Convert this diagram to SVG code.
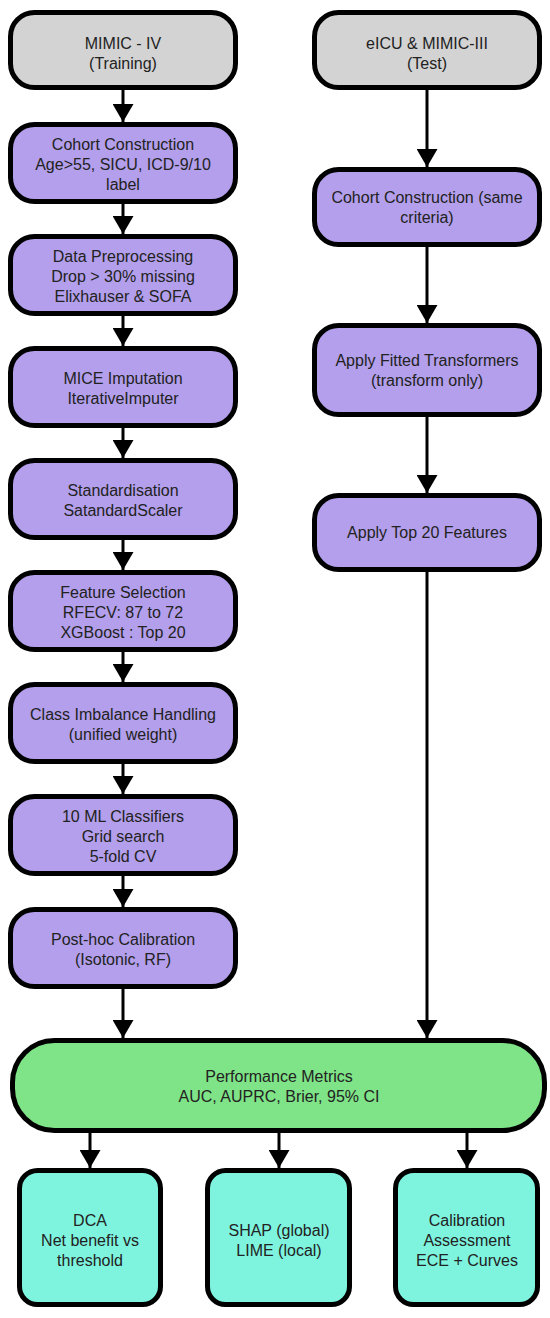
<svg xmlns="http://www.w3.org/2000/svg" width="550" height="1318" viewBox="0 0 550 1318">
<style>
.box{stroke:#000;stroke-width:5}
.grey{fill:#d3d3d3}
.purple{fill:#b39feb}
.green{fill:#7fe487}
.cyan{fill:#7ef4df}
text{font-family:"Liberation Sans",Arial,sans-serif;font-size:16px;fill:#222;text-anchor:middle}
.conn line{stroke:#000;stroke-width:3}
</style>
<defs>
<marker id="ah" markerWidth="6" markerHeight="7" refX="6" refY="3.5" orient="auto" markerUnits="strokeWidth">
<path d="M0,0 L6,3.5 L0,7 Z" fill="#000"/>
</marker>
</defs>
<rect width="550" height="1318" fill="#fff"/>
<g id="n_mimic4"><rect class="box grey" x="10.5" y="12.5" width="225" height="75" rx="24"/><text x="123" y="49">MIMIC - IV</text><text x="123" y="69">(Training)</text></g>
<g id="n_cohort"><rect class="box purple" x="10.5" y="124.5" width="225" height="77" rx="24"/><text x="123" y="150">Cohort Construction</text><text x="123" y="170">Age&gt;55, SICU, ICD-9/10</text><text x="123" y="190">label</text></g>
<g id="n_prep"><rect class="box purple" x="10.5" y="236.5" width="225" height="77" rx="24"/><text x="123" y="262">Data Preprocessing</text><text x="123" y="282">Drop &gt; 30% missing</text><text x="123" y="302">Elixhauser &amp; SOFA</text></g>
<g id="n_mice"><rect class="box purple" x="10.5" y="348.5" width="225" height="77" rx="24"/><text x="123" y="384">MICE Imputation</text><text x="123" y="404">IterativeImputer</text></g>
<g id="n_std"><rect class="box purple" x="10.5" y="460.5" width="225" height="77" rx="24"/><text x="123" y="496">Standardisation</text><text x="123" y="516">SatandardScaler</text></g>
<g id="n_feat"><rect class="box purple" x="10.5" y="572.5" width="225" height="77" rx="24"/><text x="123" y="598">Feature Selection</text><text x="123" y="618">RFECV: 87 to 72</text><text x="123" y="638">XGBoost : Top 20</text></g>
<g id="n_class"><rect class="box purple" x="10.5" y="684.5" width="225" height="77" rx="24"/><text x="123" y="720">Class Imbalance Handling</text><text x="123" y="740">(unified weight)</text></g>
<g id="n_ml"><rect class="box purple" x="10.5" y="796.5" width="225" height="77" rx="24"/><text x="123" y="822">10 ML Classifiers</text><text x="123" y="842">Grid search</text><text x="123" y="862">5-fold CV</text></g>
<g id="n_posthoc"><rect class="box purple" x="10.5" y="909.5" width="225" height="77" rx="24"/><text x="123" y="945">Post-hoc Calibration</text><text x="123" y="965">(Isotonic, RF)</text></g>
<g id="n_eicu"><rect class="box grey" x="314.5" y="12.5" width="225" height="75" rx="24"/><text x="427" y="49">eICU &amp; MIMIC-III</text><text x="427" y="69">(Test)</text></g>
<g id="n_cohort2"><rect class="box purple" x="314.5" y="169.5" width="225" height="75" rx="24"/><text x="427" y="203">Cohort Construction (same</text><text x="427" y="223">criteria)</text></g>
<g id="n_fitted"><rect class="box purple" x="314.5" y="325.5" width="225" height="89" rx="24"/><text x="427" y="366">Apply Fitted Transformers</text><text x="427" y="386">(transform only)</text></g>
<g id="n_top20"><rect class="box purple" x="314.5" y="495.5" width="225" height="74" rx="24"/><text x="427" y="538">Apply Top 20 Features</text></g>
<g id="n_perf"><rect class="box green" x="12.5" y="1040.5" width="532" height="90" rx="42"/><text x="279" y="1082">Performance Metrics</text><text x="279" y="1102">AUC, AUPRC, Brier, 95% CI</text></g>
<g id="n_dca"><rect class="box cyan" x="19.5" y="1170.5" width="141" height="134" rx="18"/><text x="90" y="1226">DCA</text><text x="90" y="1246">Net benefit vs</text><text x="90" y="1266">threshold</text></g>
<g id="n_shap"><rect class="box cyan" x="207.5" y="1170.5" width="142" height="134" rx="18"/><text x="279" y="1236">SHAP (global)</text><text x="279" y="1256">LIME (local)</text></g>
<g id="n_calib"><rect class="box cyan" x="395.5" y="1170.5" width="142" height="134" rx="18"/><text x="467" y="1226">Calibration</text><text x="467" y="1246">Assessment</text><text x="467" y="1266">ECE + Curves</text></g>
<g class="conn" id="connectors">
<line x1="123" y1="90" x2="123" y2="122" marker-end="url(#ah)"/>
<line x1="123" y1="204" x2="123" y2="234" marker-end="url(#ah)"/>
<line x1="123" y1="316" x2="123" y2="346" marker-end="url(#ah)"/>
<line x1="123" y1="428" x2="123" y2="458" marker-end="url(#ah)"/>
<line x1="123" y1="540" x2="123" y2="570" marker-end="url(#ah)"/>
<line x1="123" y1="652" x2="123" y2="682" marker-end="url(#ah)"/>
<line x1="123" y1="764" x2="123" y2="794" marker-end="url(#ah)"/>
<line x1="123" y1="876" x2="123" y2="907" marker-end="url(#ah)"/>
<line x1="123" y1="989" x2="123" y2="1038" marker-end="url(#ah)"/>
<line x1="427" y1="90" x2="427" y2="167" marker-end="url(#ah)"/>
<line x1="427" y1="247" x2="427" y2="323" marker-end="url(#ah)"/>
<line x1="427" y1="417" x2="427" y2="493" marker-end="url(#ah)"/>
<line x1="427" y1="572" x2="427" y2="1038" marker-end="url(#ah)"/>
<line x1="90" y1="1133" x2="90" y2="1168" marker-end="url(#ah)"/>
<line x1="279" y1="1133" x2="279" y2="1168" marker-end="url(#ah)"/>
<line x1="467" y1="1133" x2="467" y2="1168" marker-end="url(#ah)"/>
</g>
</svg>
